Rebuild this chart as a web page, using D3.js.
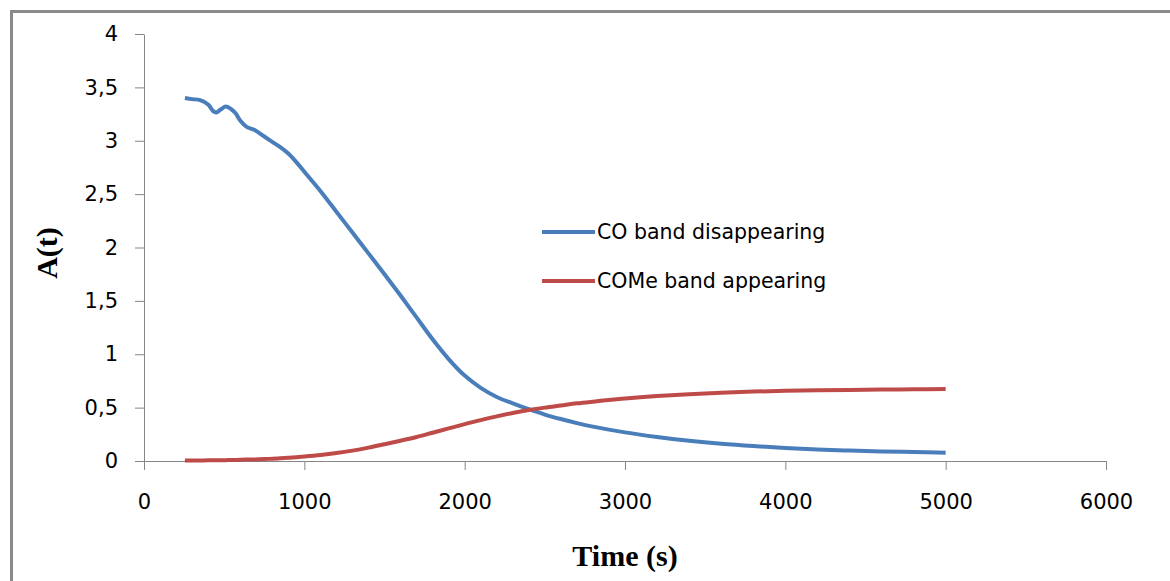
<!DOCTYPE html>
<html>
<head>
<meta charset="utf-8">
<script src="https://cdn.jsdelivr.net/npm/d3@7"></script>
<style>
  html, body { margin: 0; padding: 0; background: #fff; }
  svg { display: block; }
</style>
</head>
<body>
<svg id="chart" width="1170" height="581"></svg>
<script>
// ---- data ----
const time = [255, 300, 350, 400, 430, 450, 480, 510, 540, 570, 600, 640, 690, 750, 800, 850, 900, 950, 1000,
  1100, 1200, 1300, 1400, 1500, 1600, 1700, 1800, 1900, 2000, 2100, 2200, 2300, 2400, 2500, 2600, 2700, 2800,
  3000, 3200, 3400, 3600, 3800, 4000, 4200, 4400, 4600, 4800, 5000];
const coBand = [3.40, 3.39, 3.38, 3.34, 3.28, 3.265, 3.295, 3.32, 3.30, 3.26, 3.19, 3.13, 3.10, 3.04, 2.99, 2.94, 2.88, 2.80, 2.71,
  2.53, 2.335, 2.14, 1.945, 1.75, 1.55, 1.345, 1.14, 0.955, 0.80, 0.685, 0.60, 0.54, 0.485, 0.435, 0.393, 0.355, 0.322,
  0.268, 0.225, 0.19, 0.162, 0.14, 0.122, 0.108, 0.098, 0.09, 0.084, 0.078];
const comeBand = [0.005, 0.005, 0.005, 0.006, 0.006, 0.007, 0.007, 0.008, 0.009, 0.010, 0.011, 0.013, 0.015, 0.018, 0.021, 0.025, 0.030, 0.036, 0.042,
  0.056, 0.074, 0.097, 0.125, 0.157, 0.19, 0.225, 0.265, 0.305, 0.345, 0.383, 0.418, 0.45, 0.477, 0.50, 0.52, 0.54, 0.556,
  0.585, 0.608, 0.626, 0.64, 0.65, 0.657, 0.662, 0.666, 0.669, 0.672, 0.675];
const seriesNames = ["CO band disappearing", "COMe band appearing"];
const seriesColors = ["#4a7ebb", "#be4b48"];
const xTicks = [0, 1000, 2000, 3000, 4000, 5000, 6000];
const yTicks = [0, 0.5, 1, 1.5, 2, 2.5, 3, 3.5, 4];
const xTitle = "Time (s)";
const yTitle = "A(t)";

// ---- layout ----
const svg = d3.select("#chart");
const plotLeft = 144, plotRight = 1106, plotTop = 34, plotBottom = 461;
const x = d3.scaleLinear().domain([0, 6000]).range([plotLeft, plotRight]);
const y = d3.scaleLinear().domain([0, 4]).range([plotBottom, plotTop]);

// frame
svg.append("rect")
  .attr("x", 11.5).attr("y", 11.5).attr("width", 1300).attr("height", 700)
  .attr("fill", "none").attr("stroke", "#8a8a8a").attr("stroke-width", 3);

const fmt = d => String(d).replace(".", ",");
const tickFont = "'DejaVu Sans', sans-serif";

const gx = svg.append("g").attr("transform", `translate(0,${plotBottom})`)
  .call(d3.axisBottom(x).tickValues(xTicks).tickFormat(fmt).tickSize(9).tickSizeOuter(0).tickPadding(24));
const gy = svg.append("g").attr("transform", `translate(${plotLeft},0)`)
  .call(d3.axisLeft(y).tickValues(yTicks).tickFormat(fmt).tickSize(9).tickSizeOuter(0).tickPadding(17));
[gx, gy].forEach(g => {
  g.select(".domain").attr("stroke", "#868686");
  g.selectAll(".tick line").attr("stroke", "#868686");
  g.selectAll(".tick text").attr("fill", "#000").style("font-family", tickFont).style("font-size", "21px");
});

// lines
const series = [coBand, comeBand];
const line = d3.line().x((d, i) => x(time[i])).y(d => y(d)).curve(d3.curveCatmullRom.alpha(0.5));
series.forEach((s, k) => {
  svg.append("path").datum(s).attr("d", line)
    .attr("fill", "none").attr("stroke", seriesColors[k]).attr("stroke-width", 4)
    .attr("stroke-linejoin", "round");
});

// legend
const legendY = [232, 281];
seriesNames.forEach((name, k) => {
  svg.append("line").attr("x1", 542).attr("x2", 595).attr("y1", legendY[k]).attr("y2", legendY[k])
    .attr("stroke", seriesColors[k]).attr("stroke-width", 4);
  svg.append("text").attr("x", 597).attr("y", legendY[k] + 7).text(name)
    .style("font-family", tickFont).style("font-size", "20.5px").attr("fill", "#000");
});

// axis titles
svg.append("text").attr("x", 625).attr("y", 566).attr("text-anchor", "middle")
  .style("font-family", "'Liberation Serif', 'Times New Roman', serif").style("font-weight", "bold")
  .style("font-size", "30px").text(xTitle);
svg.append("text").attr("transform", "translate(57,253) rotate(-90)").attr("text-anchor", "middle")
  .style("font-family", "'Liberation Serif', 'Times New Roman', serif").style("font-weight", "bold")
  .style("font-size", "30px").text(yTitle);
</script>
</body>
</html>
